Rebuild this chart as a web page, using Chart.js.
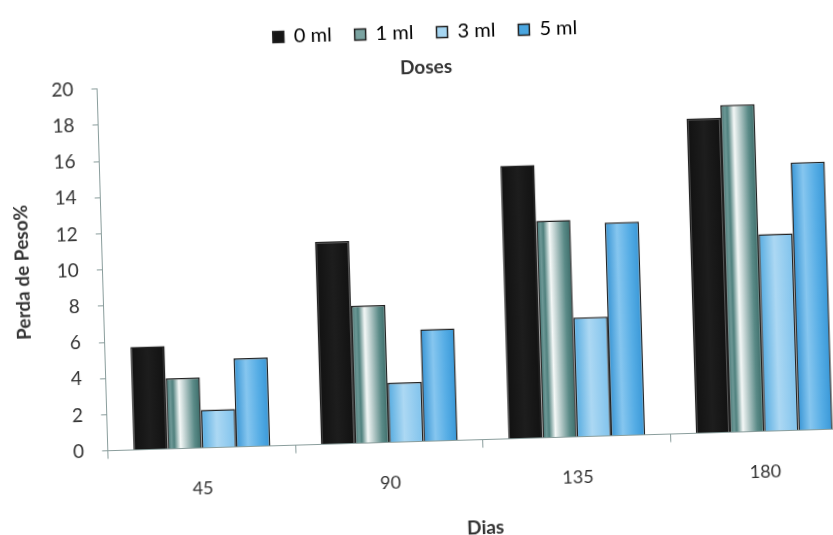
<!DOCTYPE html>
<html>
<head>
<meta charset="utf-8">
<script src="https://cdn.jsdelivr.net/npm/chart.js@4.4.1/dist/chart.umd.min.js"></script>
<style>
  html, body { margin: 0; padding: 0; background: #fff; overflow: hidden; width: 833px; height: 535px; }
  /* the printed sheet sits slightly askew */
  #wrap { position: absolute; left: 0; top: 0; width: 870px; height: 545px;
          transform-origin: 416px 267px; transform: rotate(-1.7deg); }
</style>
</head>
<body>
<div id="wrap"><canvas id="c" width="870" height="545"></canvas></div>
<script>
// Weight loss (%) by storage day and dose
const dias = ['45', '90', '135', '180'];
const doseLabels = ['0 ml', '1 ml', '3 ml', '5 ml'];
const dose0ml = [5.7, 11.2, 15.1, 17.4];
const dose1ml = [3.9, 7.6, 12.0, 18.1];
const dose3ml = [2.1, 3.3, 6.6, 10.9];
const dose5ml = [4.9, 6.2, 11.8, 14.8];
const yTickValues = [0, 2, 4, 6, 8, 10, 12, 14, 16, 18, 20];

const FONT = 'Lato, "Open Sans", sans-serif';
const AXIS = '#8a9d9c';
const INK = '#333';

// horizontal "cylinder" shading for each bar, built from the bar's own geometry
function shaded(stops, flat) {
  return (ctx) => {
    const el = ctx.element;
    if (!el || el.x === undefined || !el.width) return flat;
    const g = ctx.chart.ctx.createLinearGradient(el.x - el.width / 2, 0, el.x + el.width / 2, 0);
    stops.forEach(([o, c]) => g.addColorStop(o, c));
    return g;
  };
}

const styles = [
  { flat: '#151515', stops: [[0, '#111'], [0.5, '#1d1d1d'], [1, '#111']], legend: '#151515' },
  { flat: '#6f9997', stops: [[0, '#3b6f6c'], [0.12, '#6d9896'], [0.2, '#4f807d'], [0.38, '#f4f8f7'], [0.55, '#b7cbca'], [0.8, '#5a8a87'], [1, '#3a6b68']], legend: '#7aa3a1' },
  { flat: '#8fcaee', stops: [[0, '#55abe0'], [0.45, '#acd8f3'], [1, '#7fc2ec']], legend: '#a6d6f2' },
  { flat: '#4aa6e0', stops: [[0, '#3593d4'], [0.35, '#86c6ef'], [0.7, '#56ade5'], [1, '#3897d7']], legend: '#4aa6e0' }
];
const series = [dose0ml, dose1ml, dose3ml, dose5ml];

const chart = new Chart(document.getElementById('c'), {
  type: 'bar',
  data: {
    labels: dias,
    datasets: series.map((values, i) => ({
      label: doseLabels[i],
      data: values,
      backgroundColor: shaded(styles[i].stops, styles[i].flat),
      borderColor: '#222',
      borderWidth: 1.5,
      borderSkipped: 'bottom',
      categoryPercentage: 0.73,
      barPercentage: 1.0
    }))
  },
  options: {
    responsive: false,
    animation: false,
    devicePixelRatio: 1,
    layout: { padding: { left: 11, right: 17, top: 0, bottom: 4 } },
    plugins: {
      tooltip: { enabled: false },
      legend: {
        position: 'top',
        labels: {
          font: { family: FONT, size: 20 },
          color: INK,
          boxWidth: 11,
          boxHeight: 11,
          padding: 23,
          generateLabels: (c) => c.data.datasets.map((ds, i) => ({
            text: ds.label,
            fillStyle: styles[i].legend,
            strokeStyle: '#222',
            lineWidth: 1.5,
            hidden: false,
            datasetIndex: i
          }))
        }
      },
      title: {
        display: true,
        text: 'Doses',
        weight: 500,
        color: INK,
        font: { family: FONT, size: 19, weight: 'bold' },
        padding: { top: 3, bottom: 1 }
      }
    },
    scales: {
      x: {
        grid: { display: true, drawOnChartArea: false, drawTicks: true, tickLength: 8, color: AXIS, offset: true },
        border: { display: true, color: AXIS, width: 1 },
        ticks: { font: { family: FONT, size: 18 }, color: INK, padding: 22 },
        title: { display: true, text: 'Dias', color: INK, font: { family: FONT, size: 19, weight: 'bold' }, padding: { top: 3, bottom: 0 } }
      },
      y: {
        min: 0,
        max: 20,
        afterBuildTicks: (axis) => { axis.ticks = yTickValues.map(v => ({ value: v })); },
        grid: { display: true, drawOnChartArea: false, drawTicks: true, tickLength: 6, color: AXIS },
        border: { display: true, color: AXIS, width: 1 },
        ticks: { font: { family: FONT, size: 19 }, color: INK, padding: 18 },
        title: { display: true, text: 'Perda de Peso%', color: INK, font: { family: FONT, size: 19, weight: 'bold' }, padding: { top: 0, bottom: 5 } }
      }
    }
  }
});
// second pass so the bar shading can use each bar's laid-out position
chart.update();
</script>
</body>
</html>
